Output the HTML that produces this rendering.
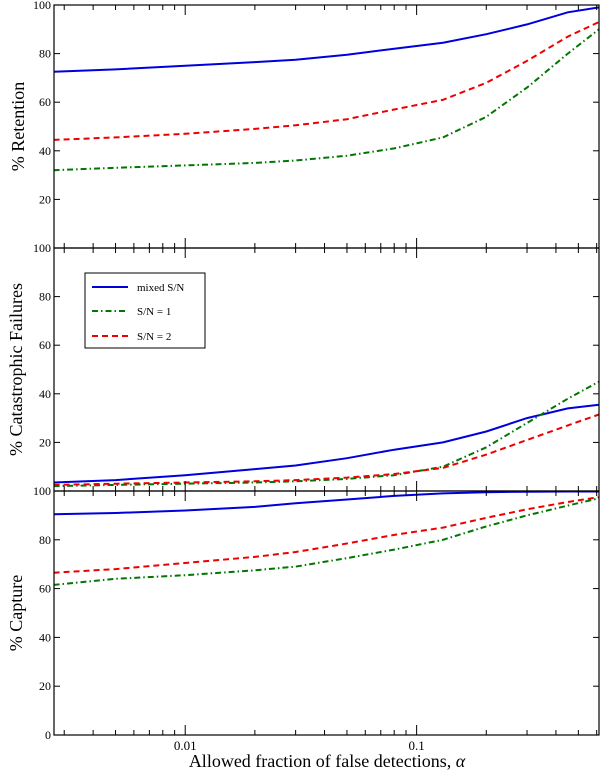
<!DOCTYPE html>
<html><head><meta charset="utf-8"><style>
body{margin:0;background:#fff}
text{font-family:"Liberation Serif",serif;fill:#000}
</style></head><body>
<svg id="chart" width="600" height="771" xmlns="http://www.w3.org/2000/svg"></svg>
<script>
const alphas=[0.0027,0.005,0.01,0.02,0.03,0.05,0.08,0.13,0.2,0.3,0.45,0.614];
const retMixed=[72.5,73.5,75,76.5,77.5,79.5,82,84.5,88,92,97,99];
const retSN2=[44.5,45.5,47,49,50.5,53,57,61,68,77,87,93];
const retSN1=[32,33,34,35,36,38,41,45.5,54,66,80,90];
const catMixed=[3.5,4.5,6.5,9,10.5,13.5,17,20,24.5,30,34,35.5];
const catSN1=[2,2.5,3,3.5,4,5,6.5,10,18,28,38,45];
const catSN2=[2.5,3,3.5,4,4.5,5.5,7,9.5,15,21,27,31.5];
const capMixed=[90.5,91,92,93.5,95,96.5,98,99,99.5,99.7,99.8,99.8];
const capSN2=[66.5,68,70.5,73,75,78.5,82,85,89,92.5,95.5,97.5];
const capSN1=[61.5,64,65.5,67.5,69,72.5,76,80,85.5,90,94,97];
const xTickLabels=["0.01","0.1"];
const xTickValues=[0.01,0.1];
const yTicks=[0,20,40,60,80,100];

const svg=document.getElementById('chart');
const NS="http://www.w3.org/2000/svg";
const L=54,R=599;
const xmin=0.00271,xmax=0.614;
function X(v){return L+(Math.log10(v)-Math.log10(xmin))/(Math.log10(xmax)-Math.log10(xmin))*(R-L);}
function mk(tag,attrs,parent){const e=document.createElementNS(NS,tag);for(const k in attrs)e.setAttribute(k,attrs[k]);(parent||svg).appendChild(e);return e;}
const panels=[
 {name:'retention',top:5,bot:248,label:'% Retention',series:[[retMixed,'#0000dd','none','mixed'],[retSN1,'#007700','6,3,1.5,3','sn1'],[retSN2,'#ee0000','6,4','sn2']],ticks:[20,40,60,80,100],lx:24},
 {name:'catastrophic',top:248,bot:491,label:'% Catastrophic Failures',series:[[catMixed,'#0000dd','none','mixed'],[catSN1,'#007700','6,3,1.5,3','sn1'],[catSN2,'#ee0000','6,4','sn2']],ticks:[20,40,60,80,100],lx:22},
 {name:'capture',top:491,bot:735,label:'% Capture',series:[[capMixed,'#0000dd','none','mixed'],[capSN1,'#007700','6,3,1.5,3','sn1'],[capSN2,'#ee0000','6,4','sn2']],ticks:[0,20,40,60,80,100],lx:22}
];
panels.forEach(p=>{
 const g=mk('g',{});
 
 
 const Y=v=>p.bot-(v/100)*(p.bot-p.top);
 p.series.forEach(s=>{
  const pts=alphas.map((a,i)=>X(a).toFixed(1)+','+Y(s[0][i]).toFixed(1)).join(' ');
  const pl=mk('polyline',{points:pts,fill:'none',stroke:s[1],'stroke-width':2,'stroke-dasharray':s[2]},g);
  
  
 });
 mk('rect',{x:L,y:p.top,width:R-L,height:p.bot-p.top,fill:'none',stroke:'#000','stroke-width':1.2},g);
 yTicks.filter(t=>p.ticks.includes(t)).forEach(t=>{
  const y=Y(t);
  mk('line',{x1:L,x2:L+6,y1:y,y2:y,stroke:'#000'},g);
  mk('line',{x1:R-6,x2:R,y1:y,y2:y,stroke:'#000'},g);
  const tx=mk('text',{x:L-3,y:y+4,'text-anchor':'end','font-size':12},g);
  tx.textContent=t;
  
  
 });
 for(let d=-3;d<=0;d++){for(let m=1;m<10;m++){const v=m*Math.pow(10,d);if(v<xmin||v>xmax)continue;const x=X(v);const len=m===1?10:5;
  mk('line',{x1:x,x2:x,y1:p.bot,y2:p.bot-len,stroke:'#000'},g);
  mk('line',{x1:x,x2:x,y1:p.top,y2:p.top+len,stroke:'#000'},g);}}
 const yl=mk('text',{transform:`translate(${p.lx},${(p.top+p.bot)/2}) rotate(-90)`,'text-anchor':'middle','font-size':18},g);
 yl.textContent=p.label;
 
 
});
xTickValues.forEach((v,i)=>{
 const t=mk('text',{x:X(v),y:750,'text-anchor':'middle','font-size':13});
 t.textContent=xTickLabels[i];
 
 
});
const xt=mk('text',{x:327,y:767,'text-anchor':'middle','font-size':18});
xt.innerHTML='Allowed fraction of false detections, <tspan font-style="italic">α</tspan>';


const lg=mk('g',{});


mk('rect',{x:85,y:273,width:120,height:75,fill:'#fff',stroke:'#000','stroke-width':1},lg);
[['mixed S/N','#0000dd','none',287],['S/N = 1','#007700','6,3,1.5,3',311],['S/N = 2','#ee0000','6,4',336]].forEach(e=>{
 const en=mk('g',{},lg);
 
 
 mk('line',{x1:92,x2:128,y1:e[3],y2:e[3],stroke:e[1],'stroke-width':2,'stroke-dasharray':e[2]},en);
 const t=mk('text',{x:137,y:e[3]+4,'font-size':11},en);
 t.textContent=e[0];
});
</script>
</body></html>
